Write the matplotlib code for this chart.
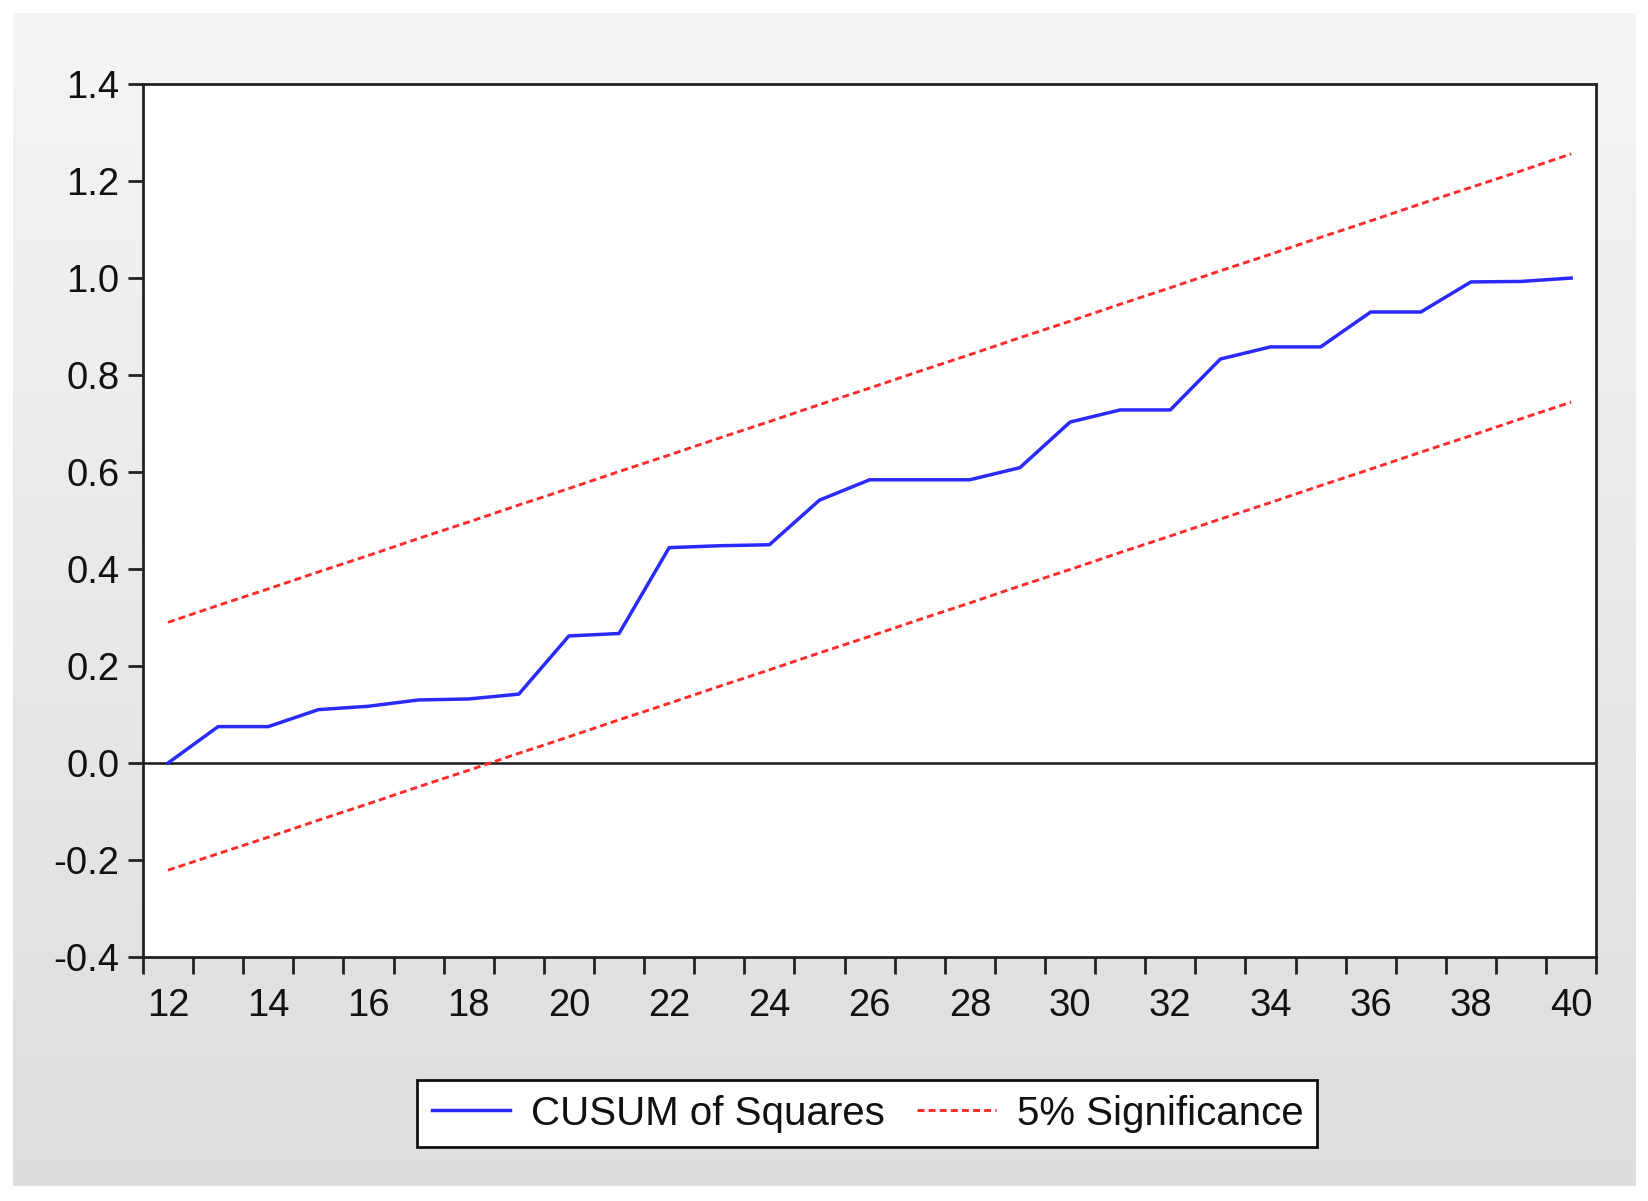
#!/usr/bin/env python
# -*- coding: utf-8 -*-
"""CUSUM of squares test plot, EViews look"""

import numpy as np
import matplotlib
matplotlib.use("Agg")
import matplotlib.pyplot as plt
from matplotlib.ticker import FixedLocator, FormatStrFormatter


# observation index
periods = list(range(12, 41))

# CUSUM of squares statistic
cusum_sq = [0.000, 0.075, 0.075, 0.110, 0.117, 0.130, 0.132, 0.142, 0.262, 0.267,
            0.444, 0.448, 0.450, 0.542, 0.584, 0.584, 0.584, 0.609, 0.703, 0.728,
            0.728, 0.833, 0.858, 0.858, 0.930, 0.930, 0.992, 0.993, 1.000]

# 5% significance bands
upper_band = [0.290, 0.325, 0.359, 0.394, 0.428, 0.463, 0.497, 0.532, 0.566, 0.601,
              0.635, 0.670, 0.704, 0.739, 0.773, 0.808, 0.842, 0.877, 0.911, 0.946,
              0.980, 1.015, 1.049, 1.084, 1.118, 1.153, 1.187, 1.221, 1.256]
lower_band = [-0.221, -0.187, -0.153, -0.118, -0.084, -0.049, -0.015, 0.020, 0.054, 0.089,
              0.123, 0.158, 0.192, 0.227, 0.261, 0.296, 0.330, 0.365, 0.399, 0.434,
              0.468, 0.503, 0.537, 0.572, 0.606, 0.641, 0.675, 0.710, 0.744]

y_ticks = [-0.4, -0.2, 0.0, 0.2, 0.4, 0.6, 0.8, 1.0, 1.2, 1.4]
x_labels = [12, 14, 16, 18, 20, 22, 24, 26, 28, 30, 32, 34, 36, 38, 40]

plt.rcParams["font.family"] = ["Liberation Sans", "DejaVu Sans"]
plt.rcParams["axes.unicode_minus"] = False
plt.rcParams["lines.scale_dashes"] = False

fig = plt.figure(figsize=(16.49, 12.01), dpi=100)
fig.patch.set_facecolor("white")

# grey gradient panel behind the graph
bg = fig.add_axes([0.0077, 0.0125, 0.9840, 0.9770])
grad = np.linspace(0.955, 0.865, 256).reshape(-1, 1)
bg.imshow(grad, aspect="auto", cmap="gray", vmin=0, vmax=1, extent=[0, 1, 0, 1])
bg.set_axis_off()
bg.set_zorder(-1)

ax = fig.add_axes([0.0867, 0.2032, 0.8813, 0.7268])
ax.set_facecolor("white")

ax.axhline(0, color="#1a1a1a", lw=1.8, zorder=1)
ax.plot(periods, cusum_sq, color="#2a2aff", lw=2.5, label="CUSUM of Squares", zorder=3)
ax.plot(periods, upper_band, color="#ff2a2a", lw=2.1, dashes=[5, 3],
        label="5% Significance", zorder=2)
ax.plot(periods, lower_band, color="#ff2a2a", lw=2.1, dashes=[5, 3], zorder=2)

ax.set_xlim(11.5, 40.5)
ax.set_ylim(-0.4, 1.4)

# period boundaries carry the tick marks, labels sit in the middle
ax.xaxis.set_major_locator(FixedLocator(np.arange(11.5, 41.0, 1.0)))
ax.xaxis.set_major_formatter(plt.NullFormatter())
ax.xaxis.set_minor_locator(FixedLocator(x_labels))
ax.xaxis.set_minor_formatter(FormatStrFormatter("%d"))
ax.tick_params(axis="x", which="major", direction="out", length=12, width=2.0,
               color="#222222")
ax.tick_params(axis="x", which="minor", length=0, pad=22, labelsize=27.5,
               labelcolor="#111111")

ax.set_yticks(y_ticks)
ax.yaxis.set_major_formatter(FormatStrFormatter("%.1f"))
ax.tick_params(axis="y", direction="out", length=11, width=2.0, color="#222222",
               pad=6, labelsize=27.5, labelcolor="#111111")

for side in ax.spines.values():
    side.set_linewidth(2.0)
    side.set_color("#222222")

leg = ax.legend(loc="center", bbox_to_anchor=(0.526, 0.0728),
                bbox_transform=fig.transFigure, ncol=2, fontsize=29,
                frameon=True, fancybox=False, framealpha=1, edgecolor="#111111",
                handlelength=1.95, handletextpad=0.52, columnspacing=0.8,
                borderpad=0.35)
leg.get_frame().set_linewidth(2.0)
for txt in leg.get_texts():
    txt.set_color("#111111")

plt.savefig("out.png", dpi=100)
